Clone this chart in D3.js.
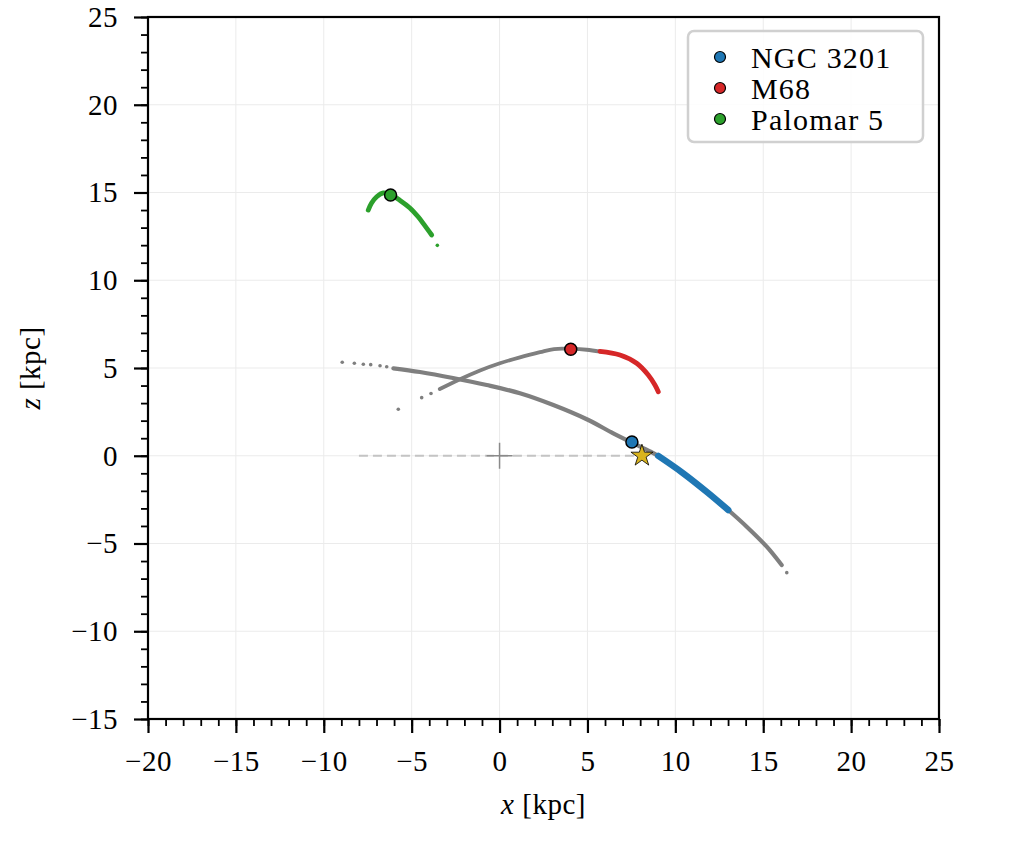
<!DOCTYPE html>
<html>
<head>
<meta charset="utf-8">
<script src="https://cdn.jsdelivr.net/npm/d3@7"></script>
<style>
  body { margin: 0; background: #fff; }
  svg text { font-family: "Liberation Serif", "DejaVu Serif", serif; fill: #000; }
</style>
</head>
<body>
<svg width="1015" height="846"></svg>
<script>
// orbit tracks and streams, [x, z] in kpc
var ngcOrbitSparse = [[-8.95,5.33],[-8.26,5.27],[-7.75,5.21],[-7.33,5.19],[-6.8,5.13],[-6.42,5.07],[16.34,-6.66]];
var ngcOrbit = [[-6.04,4.98],[-4.53,4.77],[-2.65,4.43],[-0.73,4.03],[1.16,3.56],[3.06,2.89],[4.96,2.08],[6.47,1.28],[7.53,0.75],[8.56,0.25],[9.03,-0.01],[10.45,-1.0],[11.78,-2.05],[13.01,-3.09],[14.06,-4.04],[15.2,-5.18],[16.05,-6.23]];
var ngcStream = [[9.03,-0.01],[10.45,-1.0],[11.78,-2.05],[13.01,-3.09]];

var m68OrbitSparse = [[-5.76,2.65],[-4.43,3.31],[-3.9,3.55]];
var m68Orbit = [[-3.4,3.8],[-2.25,4.36],[-1.11,4.86],[0.02,5.27],[1.16,5.61],[2.3,5.9],[3.1,6.08],[4.05,6.09],[4.96,6.04],[5.71,5.93]];
var m68Stream = [[5.71,5.95],[6.85,5.74],[7.8,5.27],[8.46,4.6],[8.84,4.03],[9.03,3.65]];

var pal5Stream = [[-7.47,14.0],[-7.28,14.4],[-6.99,14.76],[-6.61,14.98],[-6.23,14.9],[-5.66,14.55],[-5.1,14.12],[-4.62,13.6],[-4.24,13.1],[-3.86,12.58]];
var pal5Sparse = [[-3.54,11.99]];

var clusterNames = ["NGC 3201", "M68", "Palomar 5"];
var clusterColors = ["#1f77b4", "#d62728", "#2ca02c"];
var clusterX = [7.53, 4.05, -6.2];
var clusterZ = [0.78, 6.07, 14.86];

var sunPos = [8.1, 0];
var sunLine = [[-8.0, 0], [8.1, 0]];

var xTicks = [-20, -15, -10, -5, 0, 5, 10, 15, 20, 25];
var yTicks = [-15, -10, -5, 0, 5, 10, 15, 20, 25];

var svg = d3.select("svg"),
    pL = 148, pR = 939, pT = 17, pB = 719;

var x = d3.scaleLinear().domain([-20, 25]).range([pL, pR]);
var y = d3.scaleLinear().domain([-15, 25]).range([pB, pT]);

// grid
var grid = svg.append("g");
grid.selectAll(".gx").data(xTicks).enter().append("line")
    .attr("x1", function(d) { return x(d); }).attr("x2", function(d) { return x(d); })
    .attr("y1", pT).attr("y2", pB)
    .attr("stroke", "#ebebeb").attr("stroke-width", 1);
grid.selectAll(".gy").data(yTicks).enter().append("line")
    .attr("y1", function(d) { return y(d); }).attr("y2", function(d) { return y(d); })
    .attr("x1", pL).attr("x2", pR)
    .attr("stroke", "#ebebeb").attr("stroke-width", 1);

var line = d3.line()
    .x(function(d) { return x(d[0]); })
    .y(function(d) { return y(d[1]); })
    .curve(d3.curveCatmullRom);

var plot = svg.append("g");

function track(data, color, w) {
  plot.append("path").datum(data)
      .attr("d", line)
      .attr("fill", "none")
      .attr("stroke", color)
      .attr("stroke-width", w)
      .attr("stroke-linecap", "round")
      .attr("stroke-linejoin", "round");
}
function dots(data, color, r) {
  plot.append("g").selectAll("circle").data(data).enter().append("circle")
      .attr("cx", function(d) { return x(d[0]); })
      .attr("cy", function(d) { return y(d[1]); })
      .attr("r", r).attr("fill", color);
}

// orbits (gray)
track(ngcOrbit, "#7f7f7f", 4.2);
dots(ngcOrbitSparse, "#7f7f7f", 1.8);
track(m68Orbit, "#7f7f7f", 3.8);
dots(m68OrbitSparse, "#7f7f7f", 1.8);

// streams
track(ngcStream, clusterColors[0], 6.5);
track(m68Stream, clusterColors[1], 4.8);
track(pal5Stream, clusterColors[2], 4.8);
dots(pal5Sparse, clusterColors[2], 1.8);

// sun - galactic centre line
plot.append("path").datum(sunLine)
    .attr("d", d3.line().x(function(d) { return x(d[0]); }).y(function(d) { return y(d[1]); }))
    .attr("stroke", "#c4c4c4").attr("stroke-width", 2)
    .attr("stroke-dasharray", "9,5").attr("fill", "none");

// galactic centre
plot.append("path")
    .attr("d", "M" + (x(0) - 13) + "," + y(0) + "H" + (x(0) + 13) +
               "M" + x(0) + "," + (y(0) - 13) + "V" + (y(0) + 13))
    .attr("stroke", "#8a8a8a").attr("stroke-width", 1.5);

// progenitors
plot.selectAll(".prog").data(clusterNames).enter().append("circle")
    .attr("cx", function(d, i) { return x(clusterX[i]); })
    .attr("cy", function(d, i) { return y(clusterZ[i]); })
    .attr("r", 6)
    .attr("fill", function(d, i) { return clusterColors[i]; })
    .attr("stroke", "#000").attr("stroke-width", 1.5);

// sun
plot.append("path")
    .attr("d", d3.symbol().type(d3.symbolStar).size(150))
    .attr("transform", "translate(" + x(sunPos[0]) + "," + y(sunPos[1]) + ")")
    .attr("fill", "#d9b41e").attr("stroke", "#000").attr("stroke-width", 0.8);

// axes
function styleAxis(g) {
  g.select(".domain").remove();
  g.selectAll(".tick line").attr("stroke", "#000").attr("stroke-width", 2.2);
  g.selectAll(".tick text").style("font-size", "29px").style("letter-spacing", "0.5px");
}
function minor(g) {
  g.select(".domain").remove();
  g.selectAll("line").attr("stroke", "#000").attr("stroke-width", 1.8);
}
svg.append("g").attr("transform", "translate(0," + pB + ")")
    .call(d3.axisBottom(x).tickValues(d3.range(-20, 26, 1)).tickSize(7).tickFormat(""))
    .call(minor);
svg.append("g").attr("transform", "translate(" + pL + ",0)")
    .call(d3.axisLeft(y).tickValues(d3.range(-15, 26, 1)).tickSize(7).tickFormat(""))
    .call(minor);

svg.append("g").attr("transform", "translate(0," + pB + ")")
    .call(d3.axisBottom(x).tickValues(xTicks).tickSize(14).tickPadding(17).tickFormat(d3.format("d")))
    .call(styleAxis);
svg.append("g").attr("transform", "translate(" + pL + ",0)")
    .call(d3.axisLeft(y).tickValues(yTicks).tickSize(14).tickPadding(16).tickFormat(d3.format("d")))
    .call(styleAxis);

// frame
svg.append("rect")
    .attr("x", pL).attr("y", pT).attr("width", pR - pL).attr("height", pB - pT)
    .attr("fill", "none").attr("stroke", "#000").attr("stroke-width", 2.2);

// axis labels
var xl = svg.append("text").attr("x", (pL + pR) / 2).attr("y", 814)
    .attr("text-anchor", "middle").style("font-size", "29px").style("letter-spacing", "0.5px");
xl.append("tspan").style("font-style", "italic").text("x");
xl.append("tspan").text(" [kpc]");

var yl = svg.append("text")
    .attr("transform", "translate(40," + (pT + pB) / 2 + ") rotate(-90)")
    .attr("text-anchor", "middle").style("font-size", "29px").style("letter-spacing", "0.5px");
yl.append("tspan").style("font-style", "italic").text("z");
yl.append("tspan").text(" [kpc]");

// legend
var legend = svg.append("g");
legend.append("rect")
    .attr("x", 688).attr("y", 31).attr("width", 235).attr("height", 111)
    .attr("rx", 6).attr("fill", "#fff").attr("fill-opacity", 0.85)
    .attr("stroke", "#d0d0d0").attr("stroke-width", 2.5);
var li = legend.selectAll(".li").data(clusterNames).enter().append("g")
    .attr("transform", function(d, i) { return "translate(720," + (57 + i * 31) + ")"; });
li.append("circle").attr("r", 5.5)
    .attr("fill", function(d, i) { return clusterColors[i]; })
    .attr("stroke", "#000").attr("stroke-width", 1.2);
li.append("text").attr("x", 31).attr("dy", "0.35em")
    .style("font-size", "30px").style("letter-spacing", "1.2px")
    .text(function(d) { return d; });
</script>
</body>
</html>
